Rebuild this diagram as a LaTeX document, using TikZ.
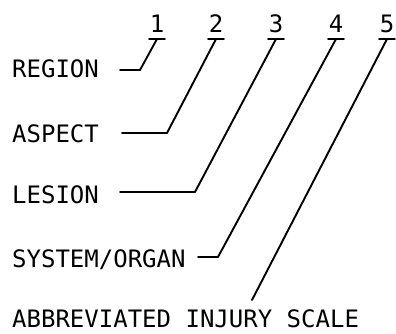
\documentclass[tikz,border=0pt]{standalone}
\usepackage{fontspec}
\setmonofont{DejaVu Sans Mono}
\usetikzlibrary{positioning,calc}
\tikzset{
  ilbl/.style={anchor=base west, inner sep=0pt, font=\ttfamily\fontsize{24}{24}\selectfont},
  inum/.style={anchor=base, inner sep=0pt, font=\ttfamily\fontsize{24}{24}\selectfont},
  ilead/.style={line width=1.9pt, line cap=round, line join=round},
}

\begin{document}
\begin{tikzpicture}[x=1pt,y=-1pt]
        \useasboundingbox (0,0) rectangle (396,333);
        % code digits with their bars
        \foreach \n/\x in {1/157,2/216,3/276,4/336,5/387}{
            \node[inum](n\n) at (\x,32) {\n};
            \coordinate (u\n) at (\x,39);
            \draw[ilead] ($(u\n)+(-8,0)$) -- ($(u\n)+(8,0)$);
        }
        % field names
        \node[ilbl](reg) at (12,77) {REGION};
        \node[ilbl](asp) at (12,142) {ASPECT};
        \node[ilbl](les) at (12,203) {LESION};
        \node[ilbl](sys) at (12,267) {SYSTEM/ORGAN};
        \node[ilbl](ais) at (12,327) {ABBREVIATED INJURY SCALE};
        % leaders
        \coordinate (a1) at (120,70);  \coordinate (b1) at (140,70);
        \coordinate (a2) at (122,133); \coordinate (b2) at (167,133);
        \coordinate (a3) at (120,192); \coordinate (b3) at (195,192);
        \coordinate (a4) at (198,257); \coordinate (b4) at (218,257);
        \coordinate (b5) at (252,300);
        \draw[ilead](a1)--(b1)--(u1);\draw[ilead](a2)--(b2)--(u2);\draw[ilead](a3)--(b3)--(u3);
        \draw[ilead](a4)--(b4)--(u4);\draw[ilead](b5)--(u5);
    \end{tikzpicture}
\end{document}
